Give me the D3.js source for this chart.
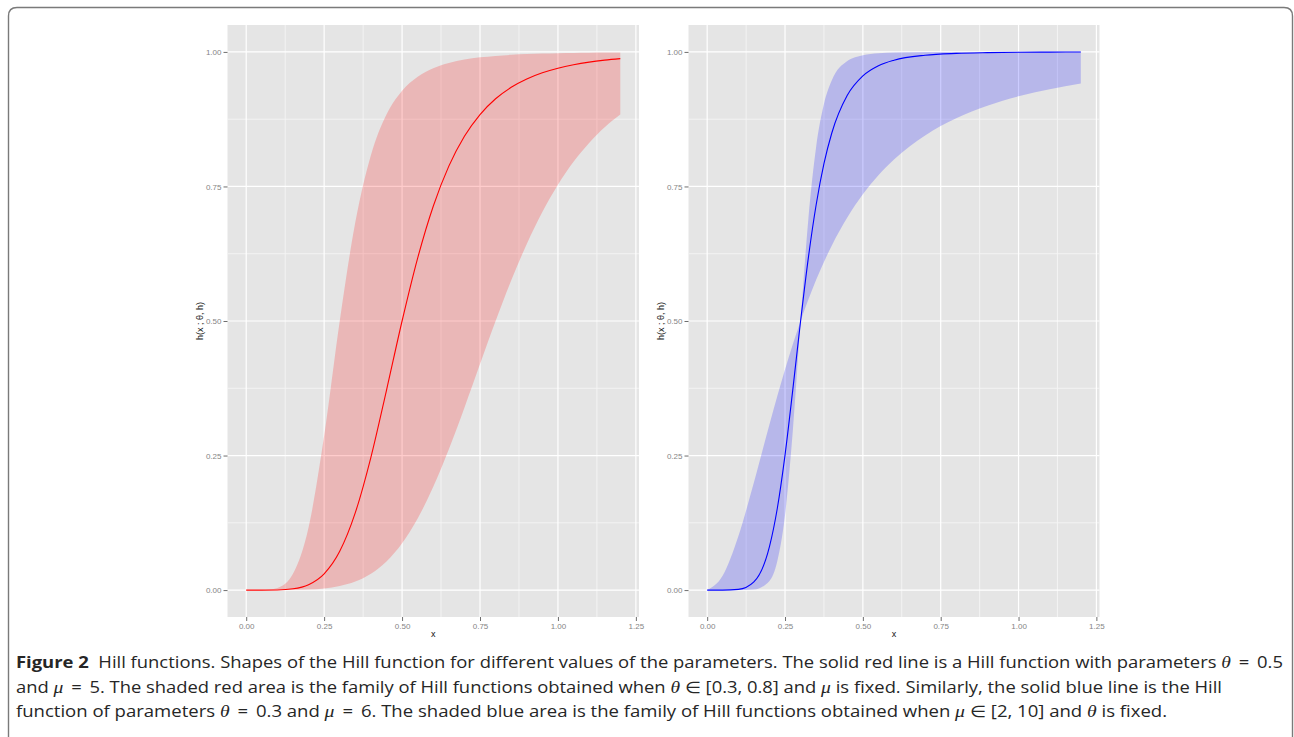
<!DOCTYPE html>
<html>
<head>
<meta charset="utf-8">
<script src="https://cdn.jsdelivr.net/npm/d3@7"></script>
<style>
body { margin: 0; background: #fff; }
svg { display: block; }
</style>
</head>
<body>
<div id="chart"></div>
<script>
// left panel: theta in [0.3, 0.8], mu = 5
const redX     = [0, 0.05, 0.1, 0.15, 0.2, 0.25, 0.3, 0.35, 0.4, 0.45, 0.5, 0.55, 0.6, 0.65, 0.7, 0.75, 0.8, 0.85, 0.9, 0.95, 1.0, 1.05, 1.1, 1.15, 1.2];
const redLine  = [0, 0.00001, 0.0003, 0.0024, 0.0101, 0.0303, 0.0721, 0.1439, 0.2468, 0.3713, 0.5, 0.6169, 0.7133, 0.7878, 0.8432, 0.8836, 0.9129, 0.9342, 0.9497, 0.9612, 0.9697, 0.9761, 0.9810, 0.9847, 0.9876];
const redUpper = [0, 0.0001, 0.0041, 0.0303, 0.1164, 0.2867, 0.5, 0.6837, 0.8082, 0.8836, 0.9279, 0.9539, 0.9697, 0.9795, 0.9857, 0.9899, 0.9926, 0.9946, 0.9959, 0.9969, 0.9976, 0.9981, 0.9985, 0.9988, 0.9990];
const redLower = [0, 0, 0.00003, 0.0002, 0.0010, 0.0030, 0.0074, 0.0158, 0.0303, 0.0533, 0.0871, 0.1331, 0.1918, 0.2615, 0.3390, 0.4200, 0.5, 0.5752, 0.6431, 0.7025, 0.7532, 0.7957, 0.8309, 0.8599, 0.8836];

// right panel: mu in [2, 10], theta = 0.3
const blueX    = [0, 0.05, 0.1, 0.15, 0.2, 0.225, 0.25, 0.275, 0.3, 0.325, 0.35, 0.375, 0.4, 0.45, 0.5, 0.55, 0.6, 0.7, 0.8, 0.9, 1.0, 1.1, 1.2];
const blueLine = [0, 0.00002, 0.0014, 0.0154, 0.0807, 0.1511, 0.2509, 0.3724, 0.5, 0.6178, 0.7160, 0.7923, 0.8489, 0.9193, 0.9554, 0.9743, 0.9846, 0.9938, 0.9972, 0.9986, 0.9993, 0.9996, 0.9998];
const blueMu2  = [0, 0.0270, 0.1, 0.2, 0.3077, 0.36, 0.4098, 0.4566, 0.5, 0.5399, 0.5765, 0.6098, 0.64, 0.6923, 0.7353, 0.7707, 0.8, 0.8448, 0.8767, 0.9, 0.9174, 0.9308, 0.9412];
const blueMu10 = [0, 0, 0.00002, 0.0010, 0.0171, 0.0533, 0.1391, 0.2954, 0.5, 0.69, 0.8237, 0.9030, 0.9467, 0.9830, 0.9940, 0.9977, 0.9990, 0.9998, 0.99995, 0.99998, 0.99999, 1.0, 1.0];

const xTicks = [0, 0.25, 0.5, 0.75, 1.0, 1.25];
const yTicks = [0, 0.25, 0.5, 0.75, 1.0];

const width = 1294, height = 737;
const svg = d3.select("#chart").append("svg")
    .attr("width", width)
    .attr("height", height);

// figure frame (rounded at the top)
svg.append("path")
    .attr("d", "M8.5,737 L8.5,16 Q8.5,7.5 17,7.5 L1284,7.5 Q1292.5,7.5 1292.5,16 L1292.5,737")
    .attr("fill", "none")
    .attr("stroke", "#7a7a7a")
    .attr("stroke-width", 1.4);

function drawPanel(xs, line, bandA, bandB, color, left, right, titleX) {
    const top = 25, bottom = 617;
    const x = d3.scaleLinear().domain([-0.06, 1.26]).range([left, right]);
    const y = d3.scaleLinear().domain([-0.05, 1.05]).range([bottom, top]);

    const g = svg.append("g");

    g.append("rect")
        .attr("x", left).attr("y", top)
        .attr("width", right - left).attr("height", bottom - top)
        .attr("fill", "#e5e5e5");

    // minor grid halfway between major ticks
    const minorX = xTicks.slice(0, -1).map((d, i) => (d + xTicks[i + 1]) / 2);
    const minorY = yTicks.slice(0, -1).map((d, i) => (d + yTicks[i + 1]) / 2);

    g.selectAll(".minor-x").data(minorX).enter().append("line")
        .attr("x1", d => x(d)).attr("x2", d => x(d))
        .attr("y1", top).attr("y2", bottom)
        .attr("stroke", "#f5f5f5").attr("stroke-width", 0.9);
    g.selectAll(".minor-y").data(minorY).enter().append("line")
        .attr("y1", d => y(d)).attr("y2", d => y(d))
        .attr("x1", left).attr("x2", right)
        .attr("stroke", "#f5f5f5").attr("stroke-width", 0.9);
    g.selectAll(".major-x").data(xTicks).enter().append("line")
        .attr("x1", d => x(d)).attr("x2", d => x(d))
        .attr("y1", top).attr("y2", bottom)
        .attr("stroke", "#ffffff").attr("stroke-width", 1.2);
    g.selectAll(".major-y").data(yTicks).enter().append("line")
        .attr("y1", d => y(d)).attr("y2", d => y(d))
        .attr("x1", left).attr("x2", right)
        .attr("stroke", "#ffffff").attr("stroke-width", 1.2);

    const band = d3.area()
        .x((d, i) => x(xs[i]))
        .y0((d, i) => y(bandB[i]))
        .y1((d, i) => y(bandA[i]))
        .curve(d3.curveMonotoneX);

    g.append("path")
        .datum(xs)
        .attr("d", band)
        .attr("fill", color)
        .attr("fill-opacity", 0.2);

    const path = d3.line()
        .x((d, i) => x(xs[i]))
        .y((d, i) => y(line[i]))
        .curve(d3.curveMonotoneX);

    g.append("path")
        .datum(xs)
        .attr("d", path)
        .attr("fill", "none")
        .attr("stroke", color)
        .attr("stroke-width", 1.1);

    const yAxis = d3.axisLeft(y).tickValues(yTicks).tickFormat(d3.format(".2f")).tickSize(4).tickPadding(2);
    const xAxis = d3.axisBottom(x).tickValues(xTicks).tickFormat(d3.format(".2f")).tickSize(4).tickPadding(2);

    const ya = g.append("g").attr("transform", `translate(${left},0)`).call(yAxis);
    const xa = g.append("g").attr("transform", `translate(0,${bottom})`).call(xAxis);
    [ya, xa].forEach(a => {
        a.select(".domain").remove();
        a.selectAll(".tick line").attr("stroke", "#6e6e6e").attr("stroke-width", 1);
        a.selectAll(".tick text")
            .attr("fill", "#858585")
            .style("font-family", "'Liberation Sans', Arial, sans-serif")
            .style("font-size", "8px");
    });

    g.append("text")
        .attr("x", (left + right) / 2)
        .attr("y", 637)
        .attr("text-anchor", "middle")
        .style("font-family", "'Liberation Sans', Arial, sans-serif")
        .style("font-size", "9px")
        .attr("fill", "#111")
        .text("x");

    g.append("text")
        .attr("transform", `translate(${titleX},${(top + bottom) / 2}) rotate(-90)`)
        .attr("text-anchor", "middle")
        .style("font-family", "'Liberation Sans', Arial, sans-serif")
        .style("font-size", "9px")
        .attr("fill", "#111")
        .text("h(x ; \u03b8, h)");
}

drawPanel(redX, redLine, redUpper, redLower, "red", 227.5, 639, 203);
drawPanel(blueX, blueLine, blueMu2, blueMu10, "blue", 688.5, 1099.5, 664);

// caption
const captionLines = [
    { y: 668, len: 1267, parts: [
        ["b", "Figure 2"], ["t", "\u00a0 Hill functions. Shapes of the Hill function for different values of the parameters. The solid red line is a Hill function with parameters "],
        ["m", "\u03b8"], ["t", " \u2009=\u2009 0.5"]] },
    { y: 692.5, len: 1206, parts: [
        ["t", "and "], ["m", "\u03bc"], ["t", " \u2009=\u2009 5. The shaded red area is the family of Hill functions obtained when "], ["m", "\u03b8"],
        ["t", " \u2208 [0.3, 0.8] and "], ["m", "\u03bc"], ["t", " is fixed. Similarly, the solid blue line is the Hill"]] },
    { y: 717, len: 1151, parts: [
        ["t", "function of parameters "], ["m", "\u03b8"], ["t", " \u2009=\u2009 0.3 and "], ["m", "\u03bc"],
        ["t", " \u2009=\u2009 6. The shaded blue area is the family of Hill functions obtained when "], ["m", "\u03bc"],
        ["t", " \u2208 [2, 10] and "], ["m", "\u03b8"], ["t", " is fixed."]] }
];

captionLines.forEach(l => {
    const t = svg.append("text")
        .attr("x", 16)
        .attr("y", l.y)
        .attr("textLength", l.len)
        .attr("lengthAdjust", "spacingAndGlyphs")
        .attr("fill", "#262626")
        .style("font-family", "'Open Sans', sans-serif")
        .style("font-size", "16px");
    l.parts.forEach(p => {
        const s = t.append("tspan").text(p[1]);
        if (p[0] === "b") s.style("font-weight", "bold");
        if (p[0] === "m") s.style("font-family", "'Liberation Serif', serif").style("font-style", "italic").style("font-size", "17px");
    });
});
</script>
</body>
</html>
